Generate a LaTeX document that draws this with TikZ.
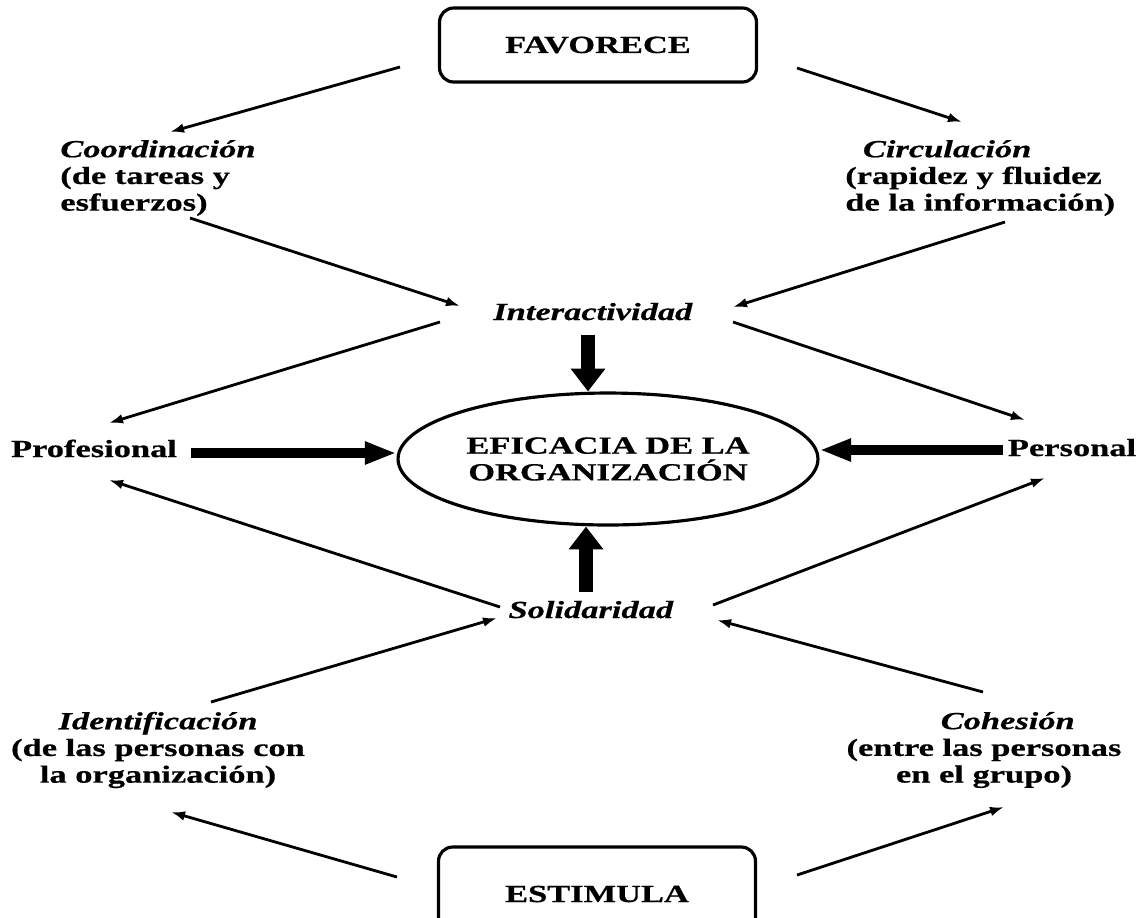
\documentclass[tikz,border=0pt]{standalone}
\usepackage{fontspec}
\setmainfont[FakeStretch=1.4,FakeBold=0.6]{Liberation Serif}
\usepackage{tikz}
\usetikzlibrary{arrows.meta}
\usetikzlibrary{shapes}

\begin{document}
\begin{tikzpicture}[x=0.02cm,y=-0.02cm,
  every node/.style={font=\fontsize{14}{15.2}\selectfont\bfseries, inner sep=0},
  caja/.style={draw, rounded corners=8pt, line width=1.8pt, minimum width=6.34cm},
  flecha/.style={-{Latex[length=8pt,width=5.5pt]}, line width=1.6pt},
  hgruesa/.style={-{Triangle[length=18pt,width=12pt]}, line width=5.7pt},
  vgruesa/.style={-{Triangle[length=13pt,width=19pt]}, line width=8.5pt}]
 \useasboundingbox (0,0) rectangle (1141,917);
 %\node at (570,0) {esquema};
 \node[caja, minimum height=1.48cm] (fav) at (598,45) {FAVORECE};
 \node[caja, minimum height=1.88cm] (est) at (597,894) {ESTIMULA};
 \node[anchor=west, align=left] (coord) at (60,178) {\textit{Coordinación}\\(de tareas y\\esfuerzos)};
 \node[anchor=west, align=left] (circ) at (845,178) {\hspace*{10pt}\textit{Circulación}\\(rapidez y fluidez\\de la información)};
 \node[anchor=base] (inter) at (593,320) {\textit{Interactividad}};
 \node[draw, ellipse, line width=1.8pt, minimum width=8.4cm, minimum height=2.64cm, align=center] (efic) at (608,459) {EFICACIA DE LA\\ORGANIZACIÓN};
 \node[anchor=base] (prof) at (94,457) {Profesional};
 \node[anchor=base] (pers) at (1072,456) {Personal};
 \node[anchor=base] (solid) at (591,618) {\textit{Solidaridad}};
 \node[align=center] (ident) at (158,750) {\textit{Identificación}\\(de las personas con\\la organización)};
 \node[align=center] (cohes) at (984,750) {\hspace*{27pt}\textit{Cohesión}\\(entre las personas\\en el grupo)};

 \draw[flecha] ([shift={(-198,22)}]fav.center) -- ([shift={(110,-46)}]coord.west);
 \draw[flecha] ([shift={(199,23)}]fav.center) -- ([shift={(117,-56)}]circ.west);
 \draw[flecha] ([shift={(130,40)}]coord.west) -- ([shift={(-133,-14)}]inter.base);
 \draw[flecha] ([shift={(160,44)}]circ.west) -- ([shift={(140,-13)}]inter.base);
 \draw[flecha] ([shift={(-153,2)}]inter.base) -- ([shift={(15,-34)}]prof.base);
 \draw[flecha] ([shift={(140,2)}]inter.base) -- ([shift={(-47,-36)}]pers.base);
 \draw[flecha] ([shift={(-91,-11)}]solid.base) -- ([shift={(15,23)}]prof.base);
 \draw[flecha] ([shift={(122,-13)}]solid.base) -- ([shift={(-27,22)}]pers.base);
 \draw[flecha] ([shift={(53,-48)}]ident.center) -- ([shift={(-94,0)}]solid.base);
 \draw[flecha] ([shift={(-1,-58)}]cohes.center) -- ([shift={(126,2)}]solid.base);
 \draw[flecha] ([shift={(-200,-17)}]est.center) -- ([shift={(13,62)}]ident.center);
 \draw[flecha] ([shift={(200,-19)}]est.center) -- ([shift={(20,57)}]cohes.center);

 \draw[vgruesa] ([shift={(-5,15)}]inter.base) -- ([shift={(-20,0)}]efic.north);
 \draw[vgruesa] ([shift={(-5,-26)}]solid.base) -- ([shift={(-22,0)}]efic.south);
 \draw[hgruesa] ([shift={(97,-4)}]prof.base) -- ([shift={(0,-6)}]efic.west);
 \draw[hgruesa] ([shift={(-69,-6)}]pers.base) -- ([shift={(0,-9)}]efic.east);
\end{tikzpicture}
\end{document}
